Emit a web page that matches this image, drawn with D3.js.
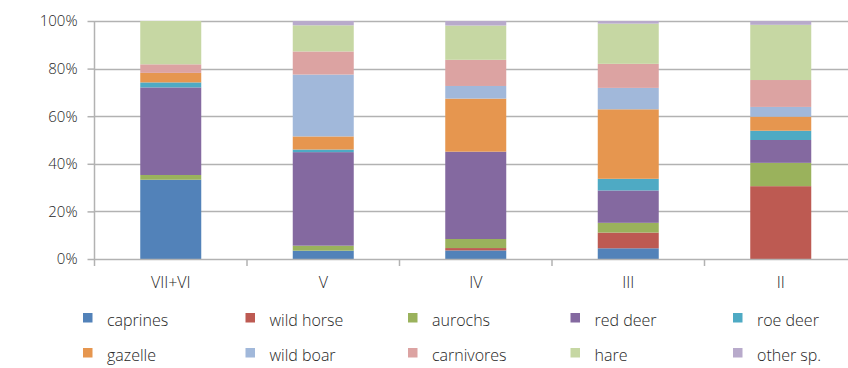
<!DOCTYPE html>
<html>
<head>
<meta charset="utf-8">
<script src="https://cdn.jsdelivr.net/npm/d3@7"></script>
<style>
  html, body { margin: 0; padding: 0; background: #fff; }
  svg { display: block; font-family: "Open Sans", sans-serif; }
</style>
</head>
<body>
<svg id="chart" width="848" height="368"></svg>
<script>
// ---- data ----
const categories = ["VII+VI", "V", "IV", "III", "II"];
const seriesNames = ["caprines", "wild horse", "aurochs", "red deer", "roe deer",
                     "gazelle", "wild boar", "carnivores", "hare", "other sp."];
const caprines   = [33.3,  3.5,  3.6,  4.5,  0.0];
const wildHorse  = [ 0.0,  0.0,  1.0,  6.6, 30.6];
const aurochs    = [ 2.0,  2.1,  3.8,  4.1,  9.8];
const redDeer    = [36.8, 39.3, 36.7, 13.6,  9.6];
const roeDeer    = [ 2.1,  1.1,  0.0,  4.9,  3.9];
const gazelle    = [ 4.0,  5.5, 22.3, 29.2,  5.9];
const wildBoar   = [ 0.0, 26.0,  5.3,  9.0,  4.1];
const carnivores = [ 3.6,  9.7, 11.0, 10.1, 11.3];
const hare       = [18.2, 11.0, 14.4, 16.9, 23.2];
const otherSp    = [ 0.0,  1.8,  1.9,  1.1,  1.6];
const yTicks = [0, 20, 40, 60, 80, 100];

const seriesValues = [caprines, wildHorse, aurochs, redDeer, roeDeer,
                      gazelle, wildBoar, carnivores, hare, otherSp];
const colors = ["#5282B9", "#BD5A52", "#9AB25C", "#8469A0", "#4EAAC4",
                "#E6964F", "#A1B8DA", "#DCA3A2", "#C6D7A3", "#B8AACB"];

// table for d3.stack
const table = categories.map((c, i) => {
  const row = { category: c };
  seriesNames.forEach((s, j) => { row[s] = seriesValues[j][i]; });
  return row;
});

const svg = d3.select("#chart");
const plotLeft = 94.5, plotRight = 857, plotTop = 21, plotBottom = 259;

const x = d3.scaleBand().domain(categories).range([plotLeft, plotRight])
  .paddingInner(0.6).paddingOuter(0.3);
const y = d3.scaleLinear().domain([0, 100]).range([plotBottom, plotTop]);
const color = d3.scaleOrdinal().domain(seriesNames).range(colors);

const gridColor = "#b2b2b2";
const textColor = "#262626";

// gridlines
svg.append("g").selectAll("line").data(yTicks.filter(d => d > 0)).join("line")
  .attr("x1", plotLeft).attr("x2", 848)
  .attr("y1", d => Math.round(y(d)) + 0.5).attr("y2", d => Math.round(y(d)) + 0.5)
  .attr("stroke", gridColor).attr("stroke-width", 1.5);

// bars
const stacked = d3.stack().keys(seriesNames)(table);
svg.append("g").selectAll("g").data(stacked).join("g")
  .attr("fill", d => color(d.key))
  .selectAll("rect").data(d => d).join("rect")
  .attr("x", d => x(d.data.category))
  .attr("width", x.bandwidth())
  .attr("y", d => y(d[1]))
  .attr("height", d => Math.max(0, y(d[0]) - y(d[1])));

// y axis
const yAxis = d3.axisLeft(y).tickValues(yTicks).tickFormat(d => d + "%").tickSize(7).tickPadding(10);
const gy = svg.append("g").attr("transform", `translate(${plotLeft},0)`).call(yAxis);
gy.select(".domain").remove();
gy.selectAll(".tick line").attr("stroke", gridColor).attr("stroke-width", 1.5);
gy.selectAll(".tick text").attr("fill", textColor).attr("font-size", 15)
  .attr("font-family", "'Open Sans', sans-serif").attr("font-weight", 300);
svg.append("line").attr("x1", plotLeft).attr("x2", plotLeft)
  .attr("y1", plotTop).attr("y2", plotBottom + 7)
  .attr("stroke", gridColor).attr("stroke-width", 1.5);

// x axis
svg.append("line").attr("x1", plotLeft).attr("x2", 848)
  .attr("y1", plotBottom + 0.5).attr("y2", plotBottom + 0.5)
  .attr("stroke", gridColor).attr("stroke-width", 1.5);
const gap = (x.step() - x.bandwidth()) / 2;
const boundaries = categories.map(c => x(c) - gap).slice(1);
svg.append("g").selectAll("line").data(boundaries).join("line")
  .attr("x1", d => d).attr("x2", d => d)
  .attr("y1", plotBottom).attr("y2", plotBottom + 7)
  .attr("stroke", gridColor).attr("stroke-width", 1.5);
const xAxis = d3.axisBottom(x).tickSize(0).tickPadding(18);
const gx = svg.append("g").attr("transform", `translate(0,${plotBottom})`).call(xAxis);
gx.select(".domain").remove();
gx.selectAll(".tick text").attr("fill", textColor).attr("font-size", 16)
  .attr("font-family", "'Open Sans', sans-serif").attr("font-weight", 300);

// legend
const legendX0 = 83, legendDX = 162.5, legendY0 = 313, legendDY = 35;
const leg = svg.append("g").selectAll("g").data(seriesNames).join("g")
  .attr("transform", (d, i) => `translate(${legendX0 + (i % 5) * legendDX},${legendY0 + Math.floor(i / 5) * legendDY})`);
leg.append("rect").attr("width", 9.5).attr("height", 9.5).attr("fill", d => color(d));
leg.append("text").attr("x", 24).attr("y", 13)
  .attr("fill", textColor).attr("font-size", 16).attr("font-weight", 300)
  .text(d => d);
</script>
</body>
</html>
